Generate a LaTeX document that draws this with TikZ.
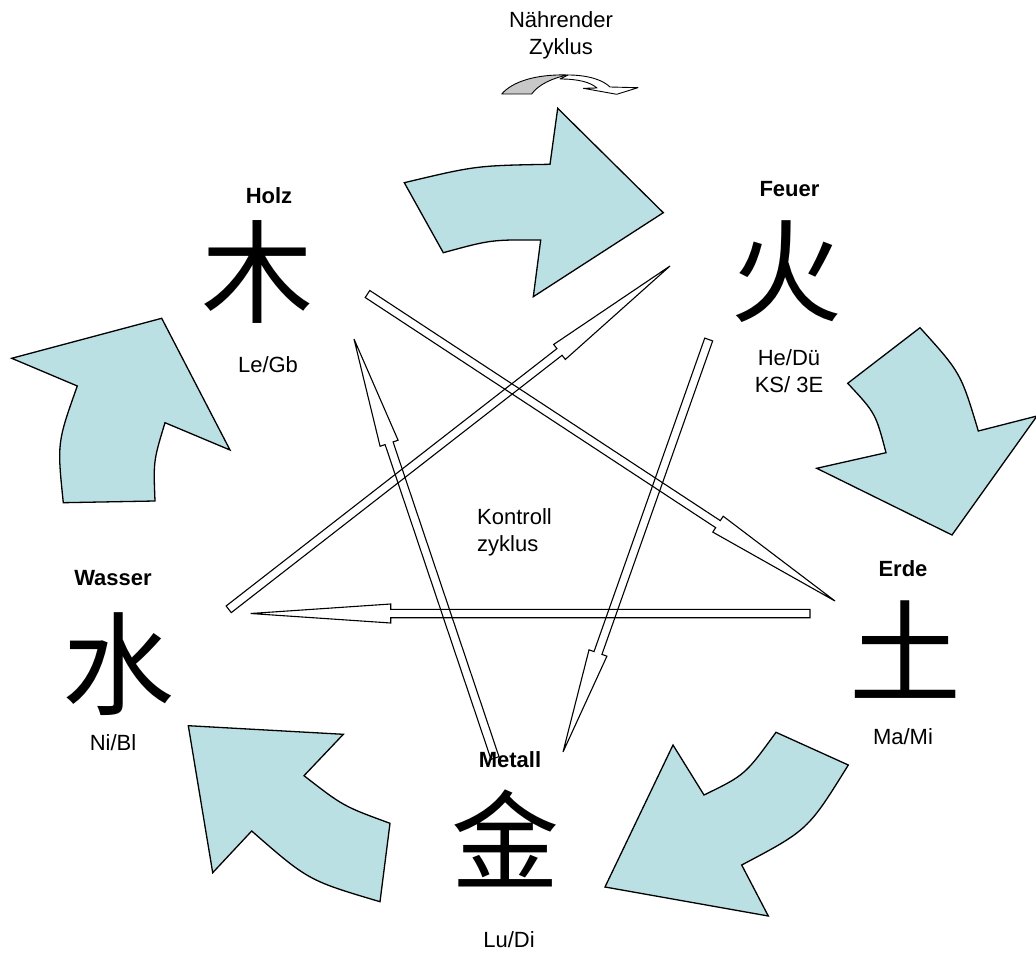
\documentclass[tikz,border=0pt]{standalone}
\usepackage{fontspec}
\setmainfont{Liberation Sans}
\newfontfamily\cjk{Noto Sans CJK SC}
\usetikzlibrary{calc}
\definecolor{cyc}{RGB}{186,224,228}
\definecolor{icongray}{RGB}{200,200,200}
\tikzset{
  cycarrow/.style={fill=cyc, draw=black, line width=1.3pt, line join=miter},
  ctrl/.style={draw=black, line width=1.1pt, line join=miter},
  lbl/.style={font=\fontsize{22}{26}\selectfont\bfseries, inner sep=0pt},
  sub/.style={font=\fontsize{22}{27}\selectfont, align=center, inner sep=0pt},
  hanzi/.style={font=\cjk\fontsize{112}{112}\selectfont, inner sep=0pt},
  icon/.style={draw=black, line width=0.9pt, line join=round},
}
% start, tip, head length
\newcommand{\ctrlarrow}[3]{%
  \coordinate (#1h) at ($(#2)!#3!(#1)$);
  \draw[ctrl] ($(#1)!4.2pt!90:(#2)$) -- ($(#1h)!4.2pt!90:(#2)$) -- ($(#1h)!9.5pt!90:(#2)$) -- (#2)
    -- ($(#1h)!9.5pt!-90:(#2)$) -- ($(#1h)!4.2pt!-90:(#2)$) -- ($(#1)!4.2pt!-90:(#2)$) -- cycle;
}
\begin{document}
\begin{tikzpicture}[x=1pt,y=-1pt]
\useasboundingbox (0,0) rectangle (1036,965);

% ---- title and icon
\node[sub] (naehr) at (561,35) {Nährender\\Zyklus};
\draw[icon, fill=icongray] (501.7,94) .. controls (512,82) and (535,74) .. (568,75)
   .. controls (552,78) and (538,85) .. (531.7,94) -- cycle;
\draw[icon, fill=white] (568,75) .. controls (588,75) and (603,80) .. (610,87) -- (638,87.7) -- (616.7,94.3)
   -- (583.3,88.3) -- (597,88) .. controls (590,82) and (578,79) .. (560,79) -- cycle;

% ---- nourishing cycle arrows
\draw[cycarrow] (404.3,182.7) .. controls (476,165.6) .. (550,164.3) -- (557.7,108.3) -- (663.3,212.7)
   -- (533.3,296.7) -- (540.7,240) .. controls (491,239.7) .. (443.3,252.7) -- cycle;
\draw[cycarrow] (920,327.7) .. controls (960.8,372.8) .. (978.3,431) -- (1037,416) -- (952,535)
   -- (816.7,468.3) -- (886,452.7) .. controls (875.6,413.2) .. (847.7,383.3) -- cycle;
\draw[cycarrow] (848.3,765) .. controls (808,830) .. (741.7,865) -- (768.3,916) -- (605,887)
   -- (673,745) -- (704,795) .. controls (745,775) .. (776,732.3) -- cycle;
\draw[cycarrow] (380,901.7) .. controls (308.2,880.4) .. (251.7,831) -- (212.7,872.7) -- (188.3,725.7)
   -- (343.3,734.3) -- (304,775.7) .. controls (343.3,806.2) .. (390,823.3) -- cycle;
\draw[cycarrow] (63.3,502.7) .. controls (57.1,442.8) .. (77.3,386) -- (11.7,358.3) -- (161.7,318.3)
   -- (230,450) -- (165,422.7) .. controls (153.4,461) .. (155,501) -- cycle;

% ---- control cycle arrows
\coordinate (hs) at (367.5,294);   \coordinate (et) at (835,601);
\coordinate (fs) at (708.7,339.5); \coordinate (mt) at (563,752);
\coordinate (es) at (810,613.5);   \coordinate (wt) at (250.7,613.5);
\coordinate (ws) at (228.7,609.3); \coordinate (ft) at (670,266);
\coordinate (ms) at (495,758);     \coordinate (ht) at (354,339);
\ctrlarrow{hs}{et}{140pt}
\ctrlarrow{fs}{mt}{105pt}
\ctrlarrow{es}{wt}{140pt}
\ctrlarrow{ws}{ft}{140pt}
\ctrlarrow{ms}{ht}{110pt}

\node[sub, align=left, anchor=west] (kontroll) at (477,532) {Kontroll\\zyklus};

% ---- elements
\node[lbl] (holzL) at (269,196) {Holz};
\node[hanzi] (holz) at (257,272) {木};
\node[sub] (holzS) at (268,365) {Le/Gb};

\node[lbl] (feuerL) at (789.5,189) {Feuer};
\node[hanzi] (feuer) at (786,272) {火};
\node[sub] (feuerS) at (789,371) {He/Dü\\KS/ 3E};

\node[lbl] (erdeL) at (903,569) {Erde};
\node[hanzi] (erde) at (905,650) {土};
\node[sub] (erdeS) at (903,737) {Ma/Mi};

\node[lbl] (metallL) at (510,760) {Metall};
\node[hanzi, font=\cjk\fontsize{108}{108}\selectfont] (metall) at (505,838) {金};
\node[sub] (metallS) at (509,940) {Lu/Di};

\node[lbl] (wasserL) at (113,578) {Wasser};
\node[hanzi] (wasser) at (118,664) {水};
\node[sub] (wasserS) at (113,743) {Ni/Bl};
\end{tikzpicture}
\end{document}
